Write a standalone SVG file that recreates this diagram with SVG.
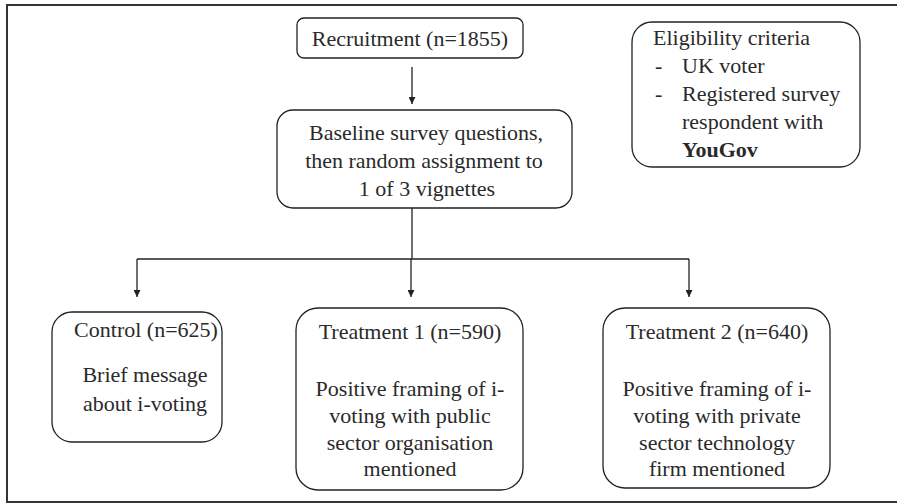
<svg xmlns="http://www.w3.org/2000/svg" width="897" height="503" viewBox="0 0 897 503">
<style>
.box{fill:#fff;stroke:#222;stroke-width:1.3}
.t{font-family:"Liberation Serif","Times New Roman",serif;font-size:22px;fill:#2a2a2a;text-anchor:middle}
.l{text-anchor:start}
.b{font-weight:bold}
.c{stroke:#222;stroke-width:1.3;fill:none}
</style>
<defs>
<marker id="ah" viewBox="0 0 10 10" refX="10" refY="5" markerWidth="8" markerHeight="7" markerUnits="userSpaceOnUse" orient="auto">
<path d="M0,0 L10,5 L0,10 z" fill="#222"/>
</marker>
</defs>
<rect x="0" y="0" width="897" height="503" fill="#fff"/>
<path d="M7,503 L7,5 L897,5" fill="none" stroke="#333" stroke-width="2"/>
<line x1="7" y1="502" x2="897" y2="502" stroke="#333" stroke-width="2"/>
<g id="connectors">
<line class="c" x1="412" y1="67" x2="412" y2="104" marker-end="url(#ah)"/>
<path class="c" d="M412,208 L412,259"/>
<path class="c" d="M137,259 L689,259"/>
<line class="c" x1="137" y1="259" x2="137" y2="297" marker-end="url(#ah)"/>
<line class="c" x1="411" y1="259" x2="411" y2="297" marker-end="url(#ah)"/>
<line class="c" x1="689" y1="259" x2="689" y2="297" marker-end="url(#ah)"/>
</g>
<g id="recruitment">
<rect class="box" x="297" y="18" width="226" height="40" rx="7"/>
<text class="t" x="410" y="46">Recruitment (n=1855)</text>
</g>
<g id="baseline">
<rect class="box" x="277" y="110" width="295" height="98" rx="16"/>
<text class="t" x="426" y="140">Baseline survey questions,</text>
<text class="t" x="424" y="168">then random assignment to</text>
<text class="t" x="427" y="196">1 of 3 vignettes</text>
</g>
<g id="eligibility">
<rect class="box" x="632" y="22" width="228" height="145" rx="20"/>
<text class="t l" x="653" y="45">Eligibility criteria</text>
<text class="t l" x="655" y="73">-</text>
<text class="t l" x="682" y="73">UK voter</text>
<text class="t l" x="655" y="101">-</text>
<text class="t l" x="682" y="101">Registered survey</text>
<text class="t l" x="682" y="129">respondent with</text>
<text class="t l b" x="682" y="157">YouGov</text>
</g>
<g id="control">
<rect class="box" x="52" y="312" width="170" height="130" rx="20"/>
<text class="t" x="146" y="337">Control (n=625)</text>
<text class="t" x="145" y="382">Brief message</text>
<text class="t" x="145" y="411">about i-voting</text>
</g>
<g id="treatment1">
<rect class="box" x="296" y="308" width="227" height="182" rx="22"/>
<text class="t" x="410" y="339">Treatment 1 (n=590)</text>
<text class="t" x="410" y="396">Positive framing of i-</text>
<text class="t" x="410" y="423">voting with public</text>
<text class="t" x="410" y="450">sector organisation</text>
<text class="t" x="410" y="476">mentioned</text>
</g>
<g id="treatment2">
<rect class="box" x="603" y="308" width="227" height="180" rx="22"/>
<text class="t" x="717" y="339">Treatment 2 (n=640)</text>
<text class="t" x="717" y="396">Positive framing of i-</text>
<text class="t" x="717" y="423">voting with private</text>
<text class="t" x="717" y="450">sector technology</text>
<text class="t" x="717" y="476">firm mentioned</text>
</g>
</svg>
